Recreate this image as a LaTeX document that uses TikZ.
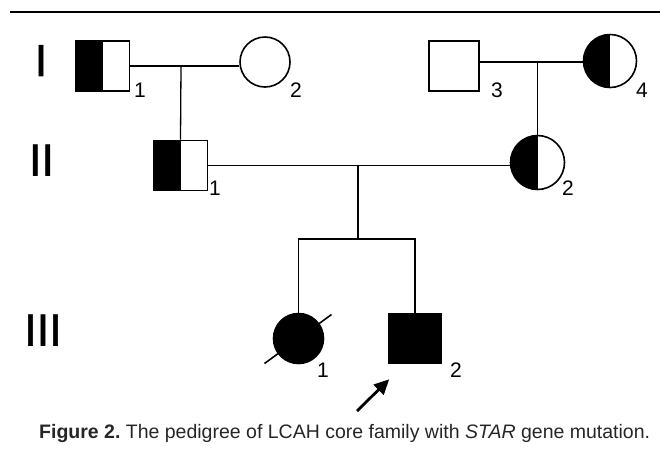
\documentclass[tikz,border=0pt]{standalone}
\usepackage{fontspec}
\setmainfont{Liberation Sans}
\newfontfamily\genfont[FakeBold=1.2]{Liberation Sans}
\usetikzlibrary{arrows.meta,calc}
\tikzset{
  person/.style={draw,line width=1.6pt,inner sep=0pt},
  male/.style={person,rectangle,minimum width=54pt,minimum height=50pt},
  female/.style={person,circle,minimum size=50pt},
  affected/.style={fill=black},
  carrier/.style={path picture={\fill (path picture bounding box.south west) rectangle (path picture bounding box.north);}},
  idx/.style={font=\fontsize{21}{21}\selectfont,inner sep=0pt,anchor=base west},
  gen/.style={font=\genfont\fontsize{45}{45}\selectfont,inner sep=0pt},
  line/.style={line width=1.3pt}
}
\begin{document}
\begin{tikzpicture}[x=1pt,y=-1pt]
      \useasboundingbox (0,0) rectangle (660,459);
      \draw[line width=2.5pt] (10,12) -- (660,12);
      % generations
      \node[gen] (g1) at (41,60.5) {I};
      \node[gen] (g2) at (41.5,160) {II};
      \node[gen] (g3) at (43,330) {III};
      % persons
      \node[male,carrier] (I1) at (102.5,66) {};
      \node[female] (I2) at (265,62) {};
      \node[male,minimum width=50pt] (I3) at (454,66) {};
      \node[female,carrier,minimum size=53pt] (I4) at (610,61) {};
      \node[male,carrier] (II1) at (180.5,165.5) {};
      \node[female,carrier,minimum size=54pt] (II2) at (537.5,162.5) {};
      \node[female,affected] (III1) at (298.5,338.5) {};
      \node[male,affected,minimum width=52pt] (III2) at (415,338.5) {};
      % numbers
      \node[idx] (n-I1) at (134,97) {1};
      \node[idx] (n-I2) at (290,97) {2};
      \node[idx] (n-I3) at (491,97) {3};
      \node[idx] (n-I4) at (636,97) {4};
      \node[idx] (n-II1) at (209,195) {1};
      \node[idx] (n-II2) at (562,195) {2};
      \node[idx] (n-III1) at (317,377) {1};
      \node[idx] (n-III2) at (450,377) {2};
      % lines
      \coordinate (m1) at (181,66);
      \coordinate (m2) at (537.5,62);
      \coordinate (m3) at (358,165);
      \coordinate (sib) at (358,239);
      \draw[line] (I1.east) -- (I1.east -| I2.west);
      \draw[line] (I3.east |- m2) -- (m2 -| I4.west);
      \draw[line] (m1) -- (II1.north);
      \draw[line] (m2) -- (II2.north);
      \draw[line] (II1.east) -- (II1.east -| II2.west);
      \draw[line] (m3) -- (sib);
      \draw[line] (III1.north) |- (sib) -| (III2.north);
      \draw[line width=1.6pt] ($(III1)+(-34,25)$) -- ($(III1)+(33,-24)$);
      % proband
      \coordinate (pb) at (357,411);
      \draw[line width=2.8pt,-{Triangle[length=15pt,width=14pt]}] (pb) -- ($(III2.south west)+(1,15)$);
      \node[anchor=base west,inner sep=0pt,text=black!85,font=\fontsize{19.5}{19.5}\selectfont] (cap) at (39,438)
        {\textbf{Figure 2.}\ The pedigree of LCAH core family with \textit{STAR} gene mutation.};
    \end{tikzpicture}
\end{document}
